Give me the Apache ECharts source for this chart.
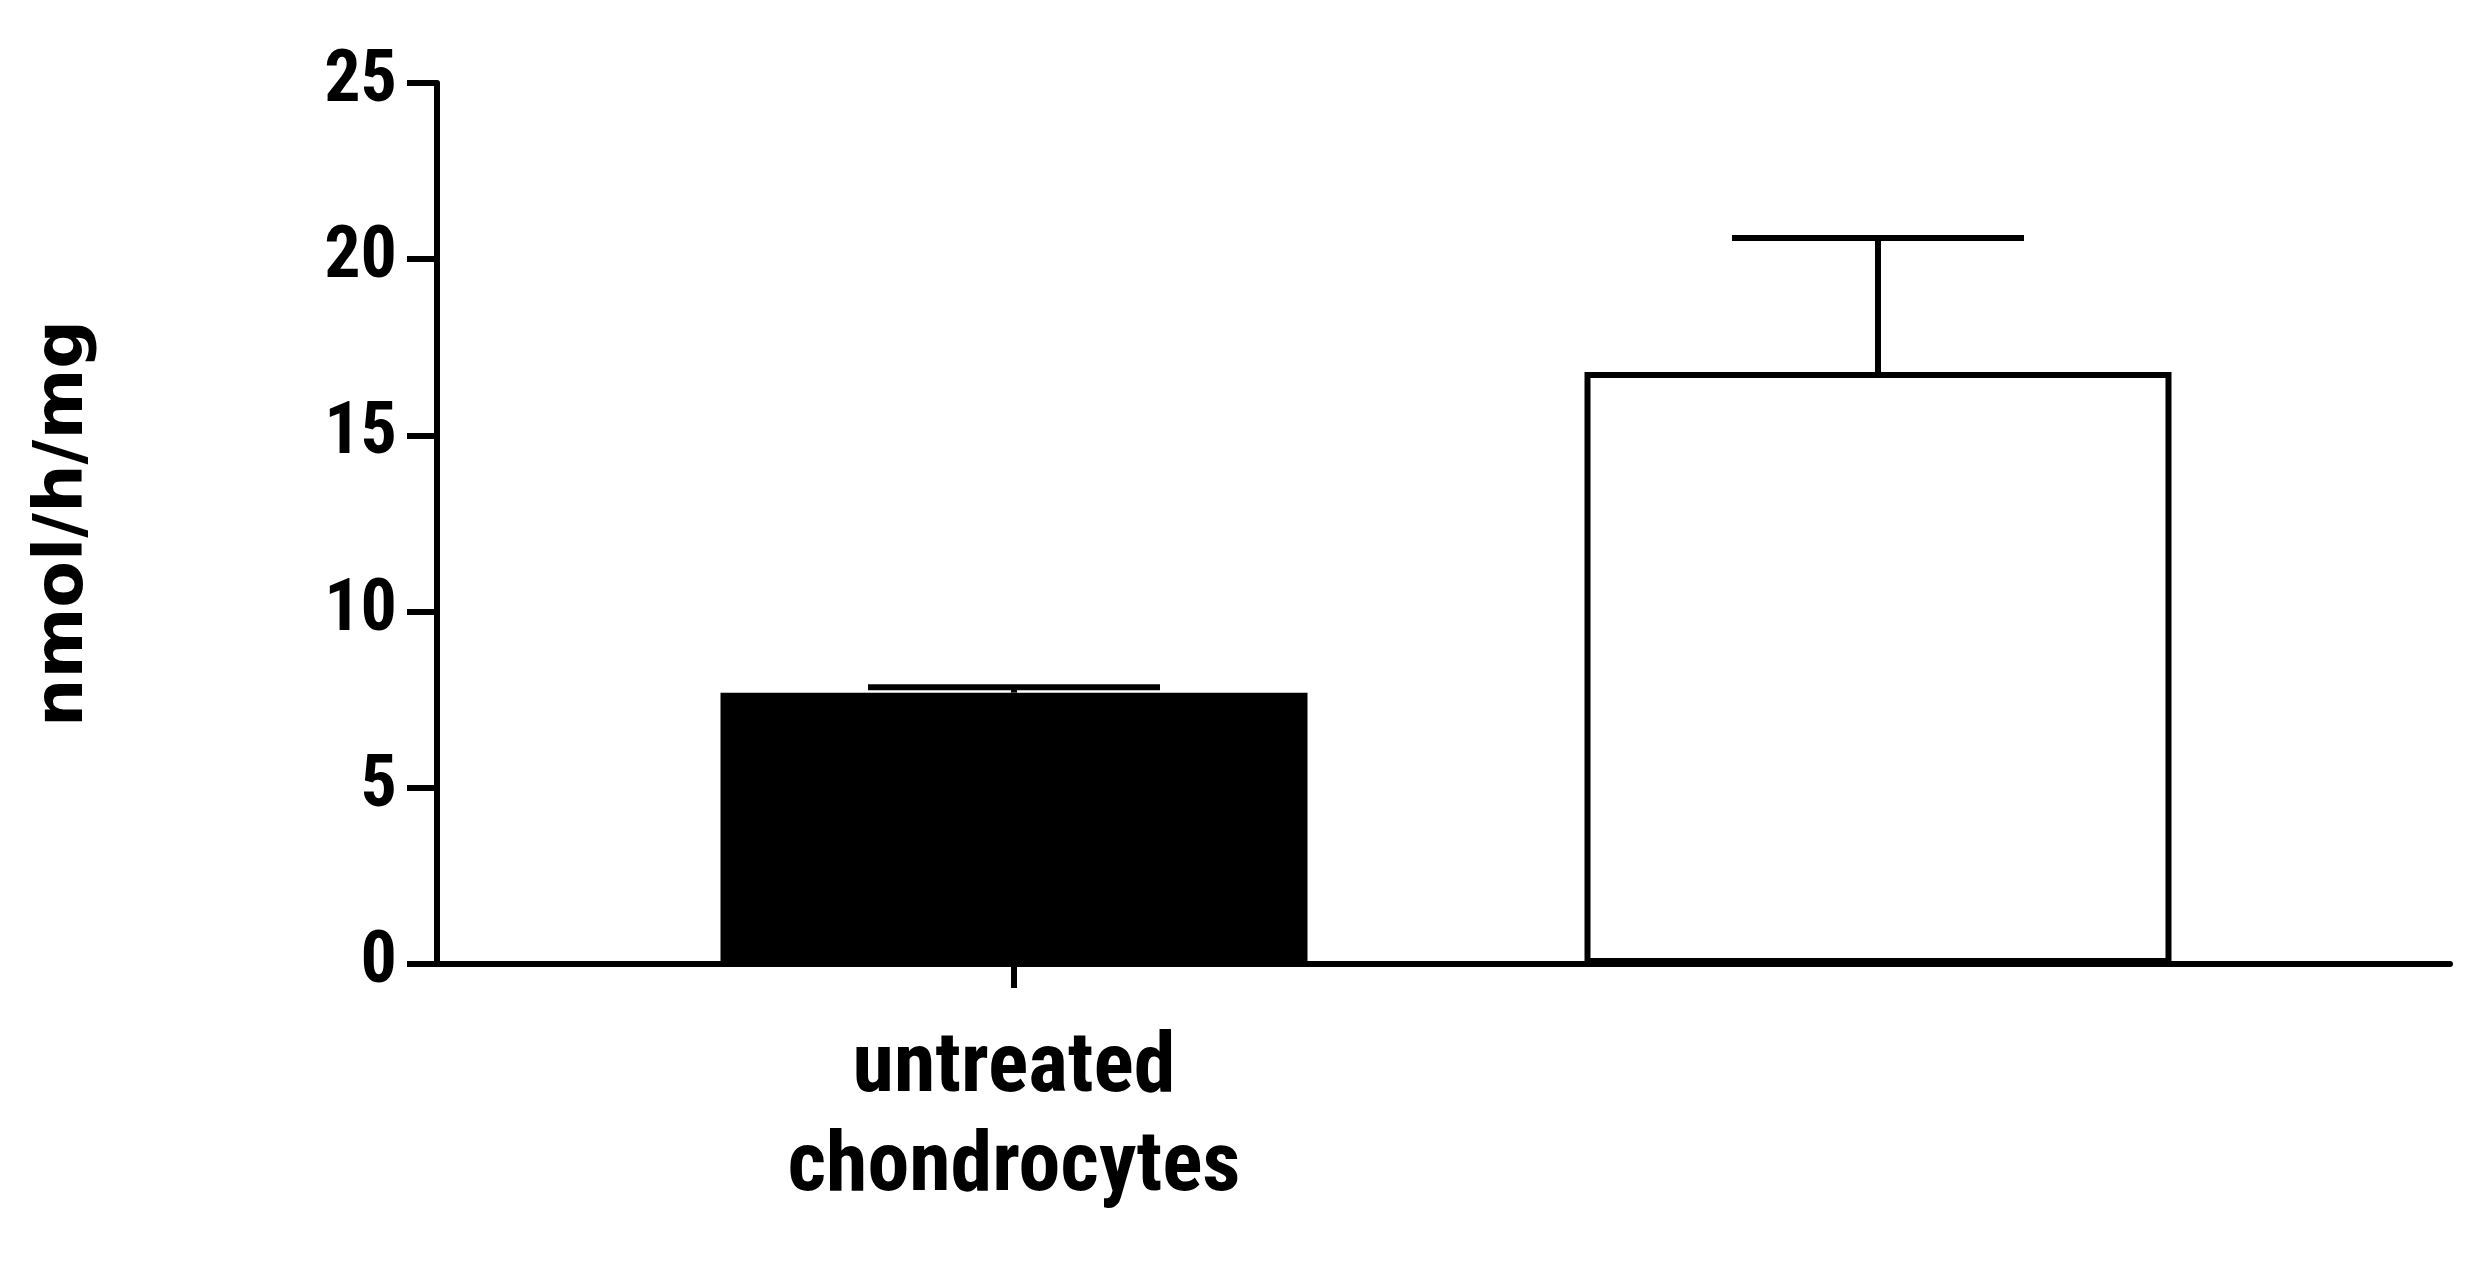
<!DOCTYPE html><html><head><meta charset="utf-8">
<script src="https://cdn.jsdelivr.net/npm/echarts@6/dist/echarts.min.js"></script>
<style>html,body{margin:0;background:#fff}#c{width:2482px;height:1282px}</style></head><body><div id="c"></div>
<script>
const categories = ['untreated\nchondrocytes', 'incubated with\nelosulfase alpha -NLC'];
const means = [7.7, 16.8];
const errUpper = [7.85, 20.6];
const yTicks = [0, 5, 10, 15, 20, 25];
const chart = echarts.init(document.getElementById('c'));
const narrow = '"Liberation Sans Narrow", "Roboto Condensed", sans-serif';
chart.setOption({
  animation: false,
  grid: [
    {left: 582, right: 172, top: 83, bottom: 318, outerBoundsMode: 'none', containLabel: false},
    {left: 437, right: 32, top: 83, bottom: 318, outerBoundsMode: 'none', containLabel: false}
  ],
  xAxis: [
    {type: 'category', gridIndex: 0, data: categories,
     axisLine: {show: false},
     axisTick: {show: true, alignWithLabel: true, length: 24, lineStyle: {color: '#000', width: 6}},
     axisLabel: {color: '#000', fontFamily: narrow, fontWeight: 'bold', fontSize: 84, lineHeight: 99, margin: 56}},
    {type: 'value', gridIndex: 1, min: 0, max: 1, axisLine: {show: true, onZero: false, lineStyle: {color: '#000', width: 6}},
     axisTick: {show: false}, axisLabel: {show: false}, splitLine: {show: false}}
  ],
  yAxis: [
    {type: 'value', gridIndex: 0, min: 0, max: 25, interval: 5, show: false},
    {type: 'value', gridIndex: 1, min: 0, max: 25, interval: 5,
     name: '{a|Enzymatic activity}\n{b|nmol/h/mg}', nameLocation: 'middle', nameGap: 300,
     nameTextStyle: {color: '#000', rich: {
       a: {fontFamily: 'DejaVu Sans', fontWeight: 'bold', fontSize: 60, lineHeight: 146, color: '#000'},
       b: {fontFamily: 'DejaVu Sans', fontWeight: 'bold', fontSize: 68, lineHeight: 146, color: '#000'}}},
     axisLine: {show: true, lineStyle: {color: '#000', width: 6}},
     axisTick: {show: true, length: 30, lineStyle: {color: '#000', width: 6}},
     axisLabel: {color: '#000', fontFamily: narrow, fontWeight: 'bold', fontSize: 72, margin: 40,
       formatter: v => yTicks.includes(v) ? String(v) : ''},
     splitLine: {show: false}}
  ],
  series: [
    {type: 'bar', xAxisIndex: 0, yAxisIndex: 0, barWidth: 587,
     data: means.map((v, i) => ({value: v, itemStyle: {color: i === 0 ? '#000' : '#fff', borderColor: '#000', borderWidth: 6}})),
     z: 2},
    {type: 'custom', xAxisIndex: 0, yAxisIndex: 0, z: 3,
     data: means.map((m, i) => [i, m, errUpper[i]]),
     renderItem: (params, api) => {
       const lo = api.coord([api.value(0), api.value(1)]);
       const hi = api.coord([api.value(0), api.value(2)]);
       const hw = 146;
       return {type: 'group', children: [
         {type: 'line', shape: {x1: lo[0], y1: lo[1], x2: hi[0], y2: hi[1]}, style: {stroke: '#000', lineWidth: 6}},
         {type: 'line', shape: {x1: hi[0] - hw, y1: hi[1], x2: hi[0] + hw, y2: hi[1]}, style: {stroke: '#000', lineWidth: 6}}
       ]};
     }}
  ]
});
</script></body></html>
